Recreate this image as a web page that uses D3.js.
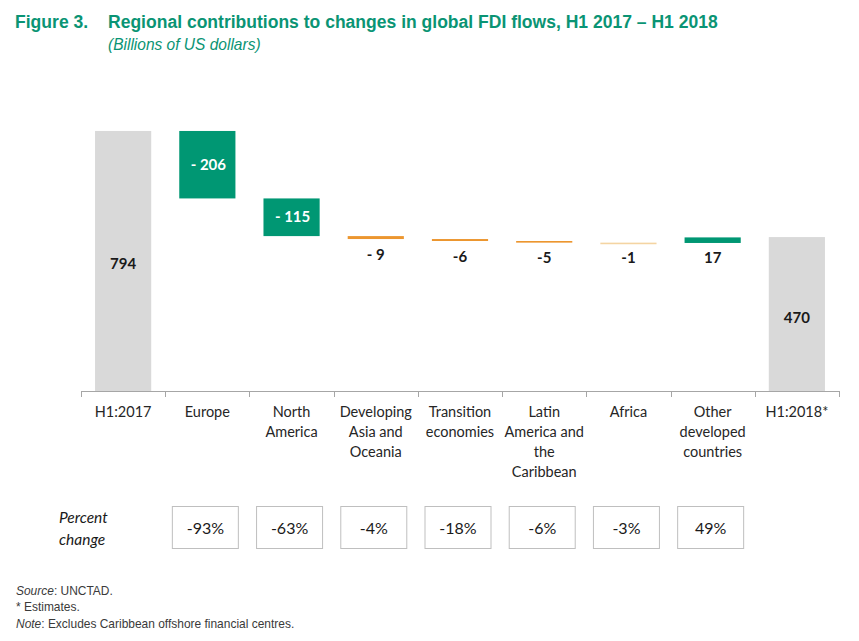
<!DOCTYPE html>
<html>
<head>
<meta charset="utf-8">
<script src="https://cdn.jsdelivr.net/npm/d3@7"></script>
<style>
  html, body { margin: 0; padding: 0; background: #fff; }
  svg { display: block; }
  .title { font-family: "Liberation Sans Narrow", "Arial Narrow", "Liberation Sans", sans-serif; }
  .calib { font-family: Lato, "Open Sans", sans-serif; }
</style>
</head>
<body>
<script>
// ---------- DATA ----------
const categories = ["H1:2017", "Europe", "North America", "Developing Asia and Oceania",
  "Transition economies", "Latin America and the Caribbean", "Africa",
  "Other developed countries", "H1:2018*"];
const categoryLines = [["H1:2017"], ["Europe"], ["North", "America"], ["Developing", "Asia and", "Oceania"],
  ["Transition", "economies"], ["Latin", "America and", "the", "Caribbean"], ["Africa"],
  ["Other", "developed", "countries"], ["H1:2018*"]];
const kinds = ["total", "change", "change", "change", "change", "change", "change", "change", "total"];
const values = [794, -206, -115, -9, -6, -5, -1, 17, 470];
const valueLabels = ["794", "- 206", "- 115", "- 9", "-6", "-5", "-1", "17", "470"];
const percentChange = [null, "-93%", "-63%", "-4%", "-18%", "-6%", "-3%", "49%", null];
const barColors = ["#d9d9d9", "#009773", "#009773", "#ec962f", "#ec962f", "#ec962f", "#f4d4a2", "#009773", "#d9d9d9"];

// ---------- LAYOUT ----------
const W = 859, H = 641;
const green = "#0a9474";
const svg = d3.select("body").append("svg").attr("width", W).attr("height", H);

// Title
svg.append("text").attr("class", "title").attr("transform", "translate(15,28) scale(0.95,1)")
  .attr("font-size", 18.5).attr("font-weight", "bold").attr("fill", green).text("Figure 3.");
svg.append("text").attr("class", "title").attr("transform", "translate(108,28) scale(0.948,1)")
  .attr("font-size", 18.5).attr("font-weight", "bold").attr("fill", green)
  .text("Regional contributions to changes in global FDI flows, H1 2017 \u2013 H1 2018");
svg.append("text").attr("class", "title").attr("transform", "translate(108,50) scale(0.97,1)")
  .attr("font-size", 16).attr("font-style", "italic").attr("fill", green)
  .text("(Billions of US dollars)");

// Scales
const x = d3.scaleBand().domain(categories).range([81, 839]).paddingInner(0.333).paddingOuter(0.1667);
const y = d3.scaleLinear().domain([0, 800]).range([391, 391 - 800 * 0.3275]);

// waterfall computation
let running = 0;
const bars = categories.map((c, i) => {
  let y0, y1;
  if (kinds[i] === "total") { y0 = 0; y1 = values[i]; running = values[i]; }
  else { y0 = running; y1 = running + values[i]; running = y1; }
  return { c, i, lo: Math.min(y0, y1), hi: Math.max(y0, y1), v: values[i] };
});

const g = svg.append("g");
g.selectAll("rect.bar").data(bars).enter().append("rect")
  .attr("class", "bar")
  .attr("x", d => x(d.c))
  .attr("width", x.bandwidth())
  .attr("y", d => y(d.hi))
  .attr("height", d => Math.max(1.6, y(d.lo) - y(d.hi)))
  .attr("fill", d => barColors[d.i]);

// Value labels
g.selectAll("text.val").data(bars).enter().append("text")
  .attr("class", "val calib")
  .attr("x", d => x(d.c) + x.bandwidth() / 2 + (d.i === 1 || d.i === 2 ? 1 : 0))
  .attr("y", d => {
    const h = y(d.lo) - y(d.hi);
    if (kinds[d.i] === "total") return (y(d.lo) + y(d.hi)) / 2 + 8.5;
    if (h > 30) return (y(d.lo) + y(d.hi)) / 2 + 5;
    return y(d.lo) + 20.5;
  })
  .attr("text-anchor", "middle")
  .attr("font-size", 15).attr("font-weight", "bold")
  .attr("fill", d => (kinds[d.i] === "change" && (y(d.lo) - y(d.hi)) > 30) ? "#fff" : "#1a1a1a")
  .text(d => valueLabels[d.i]);

// Axis
const step = x.step();
const axisColor = "#a6a6a6";
const xAxisG = svg.append("g");
xAxisG.append("line").attr("x1", 81).attr("x2", 839).attr("y1", 391.5).attr("y2", 391.5)
  .attr("stroke", axisColor).attr("stroke-width", 1);
const tickPos = categories.map(c => x(c) - (step - x.bandwidth()) / 2).concat([x(categories[categories.length - 1]) + x.bandwidth() + (step - x.bandwidth()) / 2]);
xAxisG.selectAll("line.tick").data(tickPos).enter().append("line")
  .attr("x1", d => Math.round(d) + 0.5).attr("x2", d => Math.round(d) + 0.5)
  .attr("y1", 391).attr("y2", 397).attr("stroke", axisColor);

// Category labels
const labG = svg.append("g");
categories.forEach((c, i) => {
  const t = labG.append("text").attr("class", "calib")
    .attr("x", x(c) + x.bandwidth() / 2).attr("y", 417)
    .attr("text-anchor", "middle").attr("font-size", 14.5).attr("fill", "#262626");
  categoryLines[i].forEach((ln, j) => {
    t.append("tspan").attr("x", x(c) + x.bandwidth() / 2).attr("y", 417 + j * 20).text(ln);
  });
});

// Percent change row
svg.append("text").attr("class", "calib").attr("x", 59).attr("y", 523)
  .attr("font-size", 15.5).attr("font-style", "italic").attr("fill", "#1a1a1a").text("Percent");
svg.append("text").attr("class", "calib").attr("x", 59).attr("y", 545)
  .attr("font-size", 15.5).attr("font-style", "italic").attr("fill", "#1a1a1a").text("change");

const boxW = 66, boxH = 42;
const pc = categories.map((c, i) => ({ c, p: percentChange[i] })).filter(d => d.p !== null);
const pg = svg.append("g").selectAll("g").data(pc).enter().append("g")
  .attr("transform", d => `translate(${x(d.c) + x.bandwidth() / 2 - 2.5},0)`);
pg.append("rect").attr("x", -boxW / 2 + 0.5).attr("y", 506.5).attr("width", boxW).attr("height", boxH)
  .attr("fill", "#fff").attr("stroke", "#bfbfbf").attr("stroke-width", 1);
pg.append("text").attr("class", "calib").attr("x", 0.5).attr("y", 534)
  .attr("text-anchor", "middle").attr("font-size", 16).attr("fill", "#1a1a1a").text(d => d.p);

// Footer
const foot = svg.append("g").attr("class", "title").attr("font-size", 13).attr("fill", "#3a3a3a");
const f1 = foot.append("text").attr("transform", "translate(16,595) scale(0.92,1)");
f1.append("tspan").attr("font-style", "italic").text("Source");
f1.append("tspan").text(": UNCTAD.");
foot.append("text").attr("transform", "translate(16,611) scale(0.92,1)").text("* Estimates.");
const f3 = foot.append("text").attr("transform", "translate(16,628) scale(0.92,1)");
f3.append("tspan").attr("font-style", "italic").text("Note");
f3.append("tspan").text(": Excludes Caribbean offshore financial centres.");
</script>
</body>
</html>
